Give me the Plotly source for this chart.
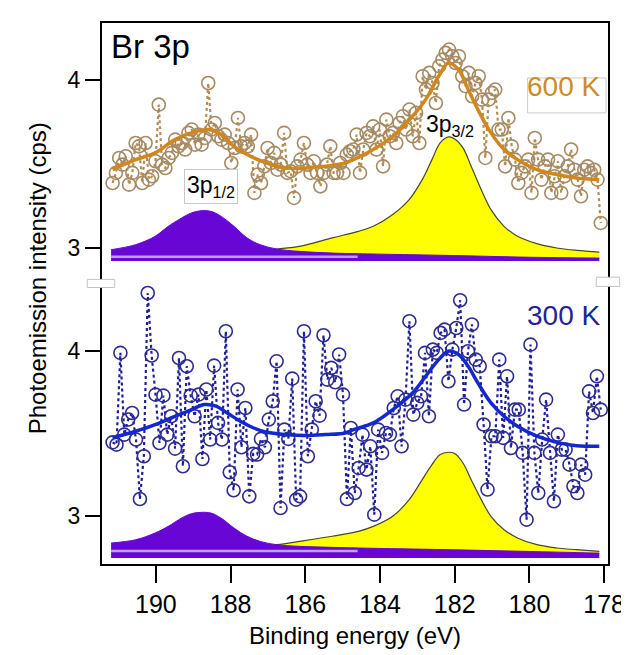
import numpy as np
import plotly.graph_objects as go

# ---------------- data ----------------
# 600 K raw counts (evenly spaced energy grid)
top_counts = [3.387, 3.447, 3.536, 3.496, 3.546, 3.377, 3.447, 3.625, 3.605, 3.387,
              3.625, 3.407, 3.427, 3.516, 3.853, 3.496, 3.476, 3.536, 3.566, 3.645,
              3.605, 3.625, 3.586, 3.685, 3.705, 3.615, 3.675, 3.615, 3.655, 3.982,
              3.705, 3.744, 3.665, 3.645, 3.675, 3.625, 3.506, 3.595, 3.774, 3.605,
              3.625, 3.605, 3.675, 3.328, 3.437, 3.387, 3.486, 3.595, 3.506, 3.566,
              3.466, 3.496, 3.685, 3.447, 3.457, 3.298, 3.486, 3.526, 3.625, 3.496,
              3.447, 3.516, 3.447, 3.367, 3.447, 3.496, 3.605, 3.447, 3.447, 3.506,
              3.447, 3.556, 3.576, 3.586, 3.675,
              3.447, 3.586, 3.685, 3.665, 3.724, 3.586, 3.705, 3.486, 3.764, 3.665,
              3.685, 3.625, 3.744, 3.784, 3.705, 3.824, 3.665, 3.804, 3.625, 4.022,
              3.943, 4.042, 3.982, 3.863, 4.082, 4.121, 4.161, 4.181, 4.141, 4.101,
              4.141, 4.022, 3.963, 4.042, 3.903, 3.982, 4.022, 3.883, 3.536, 3.883,
              3.923, 3.943, 3.705, 3.705, 3.486, 3.774, 3.605, 3.526, 3.387, 3.447,
              3.486, 3.526, 3.328, 3.655, 3.526, 3.407, 3.486, 3.526, 3.328, 3.427,
              3.516, 3.328, 3.427, 3.486, 3.586, 3.466, 3.407, 3.308, 3.466, 3.486,
              3.447, 3.466, 3.407, 3.149]

# 300 K raw counts (evenly spaced energy grid)
bottom_counts = [3.446, 3.432, 3.988, 3.493, 3.584, 3.624, 3.463, 3.103, 3.362, 4.351,
                 3.972, 3.735, 3.442, 3.729, 3.493, 3.604, 3.408, 3.957, 3.301, 3.907,
                 3.729, 3.604, 3.735, 3.345, 3.766, 3.463, 3.911, 3.564, 3.463, 4.119,
                 3.265, 3.156, 3.766, 3.416, 3.654, 3.119, 3.376, 3.372, 3.467, 3.416,
                 3.584, 3.695, 3.937, 3.048, 3.523, 3.467, 3.832, 3.099, 3.119, 4.119,
                 3.362, 3.523, 3.695, 3.608, 4.095, 3.826, 3.897, 3.810, 3.978, 3.735,
                 3.103, 3.533, 3.139, 3.291,
                 3.493, 3.281, 3.422, 3.008, 3.523, 3.382, 3.503, 3.493, 3.654, 3.725,
                 3.422, 3.705, 4.180, 3.614, 3.685, 3.725, 3.988, 3.604, 4.008, 3.988,
                 4.109, 4.129, 3.816, 4.008, 4.139, 4.307, 3.675, 3.998, 4.160, 3.947,
                 3.907, 3.554, 3.160, 3.483, 3.483, 3.947, 3.473, 3.846, 3.412, 3.644,
                 3.644, 3.382, 2.978, 4.038, 3.382, 3.139, 3.463, 3.705, 3.382, 3.089,
                 3.493, 3.402, 3.402, 3.311, 3.180, 3.139, 3.311, 3.250, 3.755, 3.624,
                 3.846, 3.644]

energy_first, energy_last = 191.16, 178.09

# fitted envelopes
top_fit_energy = [191.16, 190.54, 190.02, 189.49, 189.05, 188.61, 188.26, 187.91, 187.47, 187.03,
                  186.51, 185.98, 185.46, 184.93, 184.71, 184.18, 183.66, 183.13, 182.78, 182.43,
                  182.17, 181.90, 181.64, 181.38, 181.03, 180.68, 180.32, 179.80, 179.27, 178.74, 178.13]
top_fit = [3.467, 3.526, 3.566, 3.645, 3.685, 3.705, 3.675, 3.605, 3.546, 3.506,
           3.476, 3.476, 3.486, 3.506, 3.526, 3.586, 3.665, 3.784, 3.883, 4.022,
           4.101, 4.062, 3.943, 3.824, 3.685, 3.586, 3.526, 3.467, 3.437, 3.417, 3.407]

bottom_fit_energy = [191.16, 190.54, 190.02, 189.49, 189.05, 188.70, 188.39, 188.09, 187.74, 187.38,
                     187.03, 186.51, 185.98, 185.46, 184.93, 184.71, 184.18, 183.66, 183.13, 182.78,
                     182.43, 182.17, 181.90, 181.64, 181.38, 181.03, 180.68, 180.32, 179.80, 179.27,
                     178.74, 178.13]
bottom_fit = [3.473, 3.513, 3.553, 3.604, 3.644, 3.675, 3.665, 3.624, 3.574, 3.533,
              3.507, 3.493, 3.487, 3.493, 3.503, 3.523, 3.564, 3.644, 3.745, 3.846,
              3.947, 3.998, 3.978, 3.907, 3.806, 3.685, 3.604, 3.543, 3.483, 3.446,
              3.426, 3.422]

# fitted components (3p1/2 purple, 3p3/2 yellow)
p12_energy = [191.20, 190.54, 190.02, 189.67, 189.31, 189.05, 188.79, 188.53, 188.26, 187.91,
              187.56, 187.21, 186.77, 186.16, 185.28, 184.58, 182.0, 180.0, 178.13]
top_p12 = [2.990, 3.020, 3.070, 3.129, 3.179, 3.209, 3.222, 3.218, 3.189, 3.129,
           3.060, 3.020, 2.994, 2.980, 2.970, 2.966, 2.955, 2.945, 2.940]
bottom_p12 = [2.836, 2.856, 2.897, 2.937, 2.988, 3.014, 3.022, 3.018, 2.988, 2.927,
              2.877, 2.846, 2.826, 2.816, 2.810, 2.806, 2.795, 2.785, 2.775]

p32_energy = [188.0, 186.77, 186.16, 185.28, 184.58, 184.18, 183.66, 183.22, 182.87, 182.61,
              182.39, 182.17, 182.00, 181.78, 181.56, 181.29, 181.03, 180.68, 180.32, 179.80,
              179.27, 178.74, 178.13]
top_p32 = [2.960, 2.994, 3.010, 3.060, 3.099, 3.129, 3.199, 3.288, 3.407, 3.526,
           3.625, 3.661, 3.649, 3.596, 3.486, 3.347, 3.228, 3.129, 3.070, 3.026,
           3.000, 2.986, 2.976]
bottom_p32 = [2.800, 2.826, 2.846, 2.877, 2.907, 2.937, 2.998, 3.099, 3.220, 3.311,
              3.372, 3.386, 3.378, 3.321, 3.220, 3.099, 2.998, 2.917, 2.867, 2.826,
              2.806, 2.796, 2.786]

top_base, bottom_base = 2.923, 2.745
top_lav, bottom_lav = 2.948, 2.788

x_ticks = [190, 188, 186, 184, 182, 180, 178]

# ---------------- figure ----------------
FONT = "Arial, Liberation Sans, sans-serif"
PURPLE = "rgb(104,6,214)"
YELLOW = "rgb(255,255,0)"
LAV = "rgb(190,160,235)"

fig = go.Figure()


def add_panel(yax, counts, fit_e, fit_v, p12, p32, base, lav, pt_col, ln_col, fit_col):
    e_grid = np.linspace(energy_first, energy_last, len(counts))
    # yellow component
    fig.add_trace(go.Scatter(x=[p32_energy[0], p32_energy[-1]], y=[base, base], mode="lines",
                             line=dict(width=0, color=YELLOW), xaxis="x", yaxis=yax, hoverinfo="skip"))
    fig.add_trace(go.Scatter(x=p32_energy, y=p32, mode="lines", fill="tonexty", fillcolor=YELLOW,
                             line=dict(color="rgb(70,70,50)", width=1.2, shape="spline"),
                             xaxis="x", yaxis=yax, hoverinfo="skip"))
    # purple component
    fig.add_trace(go.Scatter(x=[p12_energy[0], p12_energy[-1]], y=[base, base], mode="lines",
                             line=dict(width=0, color=PURPLE), xaxis="x", yaxis=yax, hoverinfo="skip"))
    fig.add_trace(go.Scatter(x=p12_energy, y=p12, mode="lines", fill="tonexty", fillcolor=PURPLE,
                             line=dict(color=PURPLE, width=1, shape="spline"),
                             xaxis="x", yaxis=yax, hoverinfo="skip"))
    fig.add_trace(go.Scatter(x=[p12_energy[0], 184.6], y=[lav, lav], mode="lines",
                             line=dict(color=LAV, width=2.5), xaxis="x", yaxis=yax, hoverinfo="skip"))
    # raw data
    fig.add_trace(go.Scatter(x=e_grid, y=counts, mode="lines+markers",
                             line=dict(color=ln_col, width=2.2, dash="dot"),
                             marker=dict(symbol="circle-open", size=13, color=pt_col,
                                         line=dict(width=1.6, color=pt_col)),
                             xaxis="x", yaxis=yax))
    # fit
    fig.add_trace(go.Scatter(x=fit_e, y=fit_v, mode="lines",
                             line=dict(color=fit_col, width=3.5, shape="spline"),
                             xaxis="x", yaxis=yax))


add_panel("y", top_counts, top_fit_energy, top_fit, top_p12, top_p32, top_base, top_lav,
          "rgb(165,138,100)", "rgb(180,140,80)", "rgb(208,135,30)")
add_panel("y2", bottom_counts, bottom_fit_energy, bottom_fit, bottom_p12, bottom_p32, bottom_base,
          bottom_lav, "rgb(45,45,145)", "rgb(30,30,150)", "rgb(20,40,205)")

yax_common = dict(tickvals=[3, 4], ticks="outside", ticklen=15, tickwidth=2, tickcolor="black",
                  showgrid=False, zeroline=False, showline=False,
                  tickfont=dict(family=FONT, size=23, color="black"), anchor="x")

fig.update_layout(
    width=629, height=655,
    margin=dict(l=93, r=19, t=14, b=98),
    paper_bgcolor="white", plot_bgcolor="white",
    showlegend=False,
    font=dict(family=FONT, color="black"),
    xaxis=dict(range=[191.47, 177.87], tickvals=x_ticks, ticks="outside", ticklen=17,
               tickwidth=2, tickcolor="black", showgrid=False, zeroline=False, showline=False,
               anchor="y2", tickfont=dict(family=FONT, size=25, color="black"),
               title=dict(text="Binding energy (eV)", font=dict(family=FONT, size=24), standoff=10)),
    yaxis=dict(domain=[0.525, 1.0], range=[2.81, 4.345], **yax_common),
    yaxis2=dict(domain=[0.0, 0.525], range=[2.703, 4.43], **yax_common),
)

shapes = [
    dict(type="rect", xref="paper", yref="paper", x0=0, x1=1, y0=0, y1=1,
         line=dict(color="black", width=2), layer="above"),
    dict(type="rect", xref="paper", yref="paper", x0=-0.027, x1=0.027, y0=0.511, y1=0.526,
         line=dict(color="rgb(195,195,195)", width=1), fillcolor="white", layer="above"),
    dict(type="rect", xref="paper", yref="paper", x0=0.975, x1=1.021, y0=0.513, y1=0.530,
         line=dict(color="rgb(195,195,195)", width=1), fillcolor="white", layer="above"),
    dict(type="rect", xref="x", yref="y", x0=180.05, x1=177.95, y0=3.804, y1=4.012,
         line=dict(color="rgb(205,205,205)", width=1), layer="above"),
]
fig.update_layout(shapes=shapes)

annotations = [
    dict(text="Photoemission intensity (cps)", xref="paper", yref="paper", x=-0.126, y=0.528,
         xanchor="center", yanchor="middle",
         textangle=-90, showarrow=False, font=dict(family=FONT, size=24, color="black")),
    dict(text="Br 3p", xref="paper", yref="paper", x=0.015, y=0.992, xanchor="left", yanchor="top",
         showarrow=False, font=dict(family=FONT, size=33, color="black")),
    dict(text="600 K", xref="x", yref="y", x=179.1, y=3.964, showarrow=False,
         font=dict(family=FONT, size=28, color="rgb(205,140,40)")),
    dict(text="300 K", xref="x", yref="y2", x=179.08, y=4.212, showarrow=False,
         font=dict(family=FONT, size=28, color="rgb(35,35,150)")),
    dict(text="3p<sub>1/2</sub>", xref="x", yref="y", x=188.53, y=3.369, showarrow=False,
         bgcolor="white", bordercolor="rgb(200,200,200)", borderwidth=1, borderpad=2,
         font=dict(family=FONT, size=23, color="black")),
    dict(text="3p<sub>3/2</sub>", xref="x", yref="y", x=182.13, y=3.732, showarrow=False,
         font=dict(family=FONT, size=23, color="black")),
]
fig.update_layout(annotations=annotations)

fig.write_html("out.html")
